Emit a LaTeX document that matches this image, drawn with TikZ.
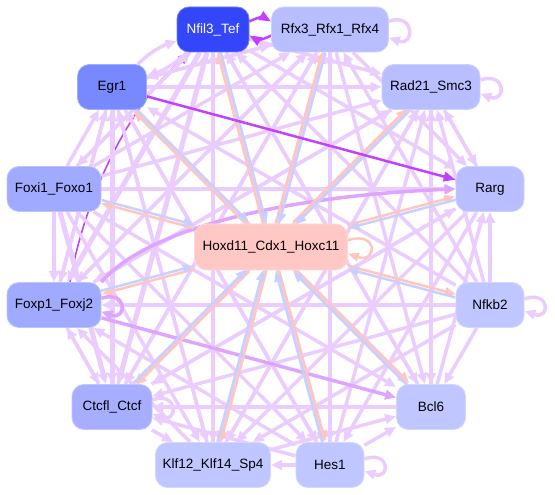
\documentclass[tikz,border=0pt]{standalone}
\usepackage{fontspec}
\setmainfont{Liberation Sans}
\usetikzlibrary{arrows.meta}
\pgfdeclarelayer{bg}
\pgfsetlayers{bg,main}
\definecolor{cN}{RGB}{52,70,250}
\definecolor{cE}{RGB}{120,136,255}
\definecolor{cF}{RGB}{160,170,255}
\definecolor{cC}{RGB}{168,174,255}
\definecolor{cR}{RGB}{184,190,255}
\definecolor{cL}{RGB}{192,198,255}
\definecolor{cH}{RGB}{255,200,196}
\definecolor{cLav}{RGB}{235,204,255}
\definecolor{cMed}{RGB}{222,165,255}
\definecolor{cStr}{RGB}{196,64,255}
\definecolor{cPink}{RGB}{255,198,190}
\definecolor{cBlue}{RGB}{200,208,255}
\begin{document}
\begin{tikzpicture}[x=1pt,y=1pt,
  box/.style={rectangle, rounded corners=12pt, fill=#1, draw=#1!70!white, line width=0.8pt,
    minimum height=45pt, inner sep=0pt, font=\fontsize{13.5}{16}\selectfont},
  lav/.style={draw=cLav, line width=3.5pt, -{Triangle[length=11pt,width=9.5pt]}, color=cLav},
  lavw/.style={lav, line width=5pt},
  medp/.style={draw=cMed, color=cMed, line width=3.5pt, -{Triangle[length=11pt,width=9.5pt]}},
  strongp/.style={draw=cStr, color=cStr, line width=2.5pt, -{Triangle[length=12pt,width=9.5pt]}},
  hpink/.style={draw=cPink, color=cPink, line width=2.5pt, -{Triangle[length=11pt,width=8.5pt]}},
  hblue/.style={draw=cBlue, color=cBlue, line width=2.5pt, -{Triangle[length=11pt,width=8.5pt]}}
]
\useasboundingbox (0,0) rectangle (555,495);
\node[box=cN, minimum width=72pt, text=white] (N) at (213,465.5) {Nfil3\_Tef};
\node[box=cR, minimum width=117pt] (R) at (330,465.5) {Rfx3\_Rfx1\_Rfx4};
\node[box=cE, minimum width=69pt] (E) at (112,408) {Egr1};
\node[box=cR, minimum width=98pt] (D) at (431,408) {Rad21\_Smc3};
\node[box=cF, minimum width=94pt] (Fi) at (54,306) {Foxi1\_Foxo1};
\node[box=cR, minimum width=68pt] (Ra) at (490,306) {Rarg};
\node[box=cH, minimum width=153pt, minimum height=46pt] (H) at (271,248) {Hoxd11\_Cdx1\_Hoxc11};
\node[box=cF, minimum width=94pt] (Fp) at (54,190) {Foxp1\_Foxj2};
\node[box=cL, minimum width=68pt] (Nf) at (490,190) {Nfkb2};
\node[box=cC, minimum width=80pt] (C) at (112,88) {Ctcfl\_Ctcf};
\node[box=cL, minimum width=69pt] (B) at (431,88) {Bcl6};
\node[box=cL, minimum width=115pt] (K) at (213,30) {Klf12\_Klf14\_Sp4};
\node[box=cL, minimum width=68pt] (He) at (330,30) {Hes1};

\begin{pgfonlayer}{bg}
\draw[strongp, line width=1.6pt] ([xshift=16pt]Fp.north) .. controls (85,300) and (130,390) .. ([xshift=-23pt]N.south);
% lavender edges among outer nodes
\foreach \s/\t in {E/R, E/D, E/B, E/He, E/K, E/Fp,
  Fi/E, Fi/Fp, Fi/R, Fi/D, Fi/Ra, Fi/B, Fi/He, Fi/K, Fi/N,
  N/Fi, N/K, N/He, N/B, N/D, N/Ra,
  R/Fp, R/C, R/K, R/He, R/B, R/Ra, R/E,
  D/Ra, Ra/D, D/Fp, D/C, D/K, D/B,
  Ra/C, Ra/K, Ra/He,
  Nf/Ra, Nf/E, Nf/N, Nf/Fp, Nf/C, Nf/K, Nf/B, Nf/R, Nf/D,
  B/C, B/D, B/Ra, B/N,
  He/K, He/B, He/Fp, He/C, He/E, He/R, He/D,
  K/Fp, K/E, K/B, K/R, K/N, K/D,
  C/K, C/Fp, C/N, C/R, C/Ra,
  Fp/E, Fp/C, Fp/D, Fp/R}
  \draw[lav] (\s) -- (\t);
\foreach \s/\t in {E/C, C/E, Fi/C, N/Fp, N/C}
  \draw[lavw] (\s) -- (\t);
\draw[lav] (E) to[bend left=12] (N);
\draw[lav] (N) to[bend left=12] (E);
% self loops
\draw[lav] (R.8) .. controls +(26,9) and +(26,-9) .. (R.-8);
\draw[lav] (D.8) .. controls +(26,9) and +(26,-9) .. (D.-8);
\draw[lav] (Nf.10) .. controls +(26,9) and +(26,-9) .. (Nf.-10);
\draw[lav] (He.10) .. controls +(26,9) and +(26,-9) .. (He.-10);
\draw[lav] (C.10) .. controls +(26,9) and +(26,-9) .. (C.-10);
\draw[medp] (Fp.8) .. controls +(26,9) and +(26,-9) .. (Fp.-8);
% medium purple
\draw[medp] (Fp.north east) .. controls (150,270) and (300,300) .. (Ra.west);
\draw[medp] (Fp) -- (B);
% Hoxd11 pairs
\foreach \X/\dx/\dy/\mx/\my in {N/-1.55/-0.41/1.55/0.41, R/-1.55/0.42/1.55/-0.42,
  E/-1.13/-1.13/1.13/1.13, D/-1.13/1.13/1.13/-1.13, Fi/-0.41/-1.55/0.41/1.55,
  Ra/-0.41/1.55/0.41/-1.55, Fp/0.41/-1.55/-0.41/1.55, Nf/0.41/1.55/-0.41/-1.55,
  C/1.13/-1.13/-1.13/1.13, B/1.13/1.13/-1.13/-1.13, K/1.55/-0.41/-1.55/0.41,
  He/1.55/0.42/-1.55/-0.42}
{
  \draw[hpink, transform canvas={shift={(\dx pt,\dy pt)}}] (H) -- (\X);
  \draw[hblue, transform canvas={shift={(\mx pt,\my pt)}}] (\X) -- (H);
}
\draw[hpink] (H.5) .. controls +(30,10) and +(30,-10) .. (H.-5);
% strong purple
\draw[strongp] ([yshift=8pt]N.east) to[bend left=30] ([yshift=8pt]R.west);
\draw[strongp] ([yshift=-6pt]R.west) to[bend left=30] ([yshift=-6pt]N.east);
\draw[strongp] (E) -- (Ra);
\end{pgfonlayer}
\end{tikzpicture}
\end{document}
